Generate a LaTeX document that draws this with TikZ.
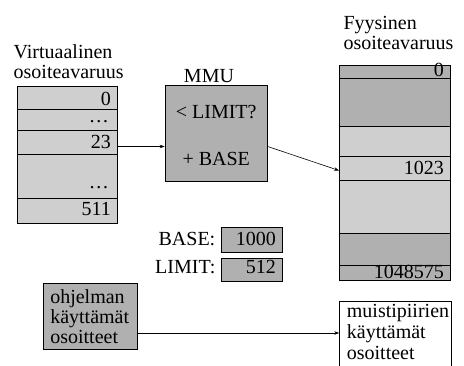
\documentclass[tikz,border=0pt]{standalone}
\usepackage{fontspec}
\setmainfont{Liberation Serif}
\usetikzlibrary{arrows.meta}

\definecolor{darkcell}{gray}{0.69}
\definecolor{lightcell}{gray}{0.81}

\tikzset{
  cell/.style={draw, line width=0.8pt},
  lbl/.style={inner sep=0pt, font=\fontsize{20}{20}\selectfont},
  link/.style={line width=0.6pt, -{Stealth[length=5pt,width=3.5pt]}}
}

\begin{document}
\begin{tikzpicture}[x=1pt,y=-1pt]

\useasboundingbox (0,0) rectangle (464,365);

% virtuaalinen osoiteavaruus
\draw [cell, fill=lightcell] (17,86.7) rectangle (117,109);
\draw [cell, fill=lightcell] (17,109) rectangle (117,130.7);
\draw [cell, fill=lightcell] (17,130.7) rectangle (117,154.3);
\draw [cell, fill=lightcell] (17,154.3) rectangle (117,198.3);
\draw [cell, fill=lightcell] (17,198.3) rectangle (117,223.3);

\node [lbl, anchor=base west] (vtitle1) at (13.5,58.3) {Virtuaalinen};
\node [lbl, anchor=base west] (vtitle2) at (13.5,78.3) {osoiteavaruus};

\node [lbl, anchor=base east] (v0) at (111,105) {0};
\node [lbl, anchor=base east] (vdotsA) at (109,122) {…};
\node [lbl, anchor=base east] (v23) at (111,148.3) {23};
\node [lbl, anchor=base east] (vdotsB) at (109,188.3) {…};
\node [lbl, anchor=base east] (v511) at (111,215) {511};

% fyysinen osoiteavaruus
\draw [cell, fill=darkcell] (339,65) rectangle (450,78.3);
\draw [cell, fill=darkcell] (339,78.3) rectangle (450,126);
\draw [cell, fill=lightcell] (339,126) rectangle (450,156.7);
\draw [cell, fill=lightcell] (339,180) rectangle (450,233.3);
\draw [cell, fill=darkcell] (339,233.3) rectangle (450,265);
\draw [cell, fill=darkcell] (339,265) rectangle (450,280);
\draw [cell, fill=lightcell] (339,156.7) rectangle (450,180);

\node [lbl, anchor=base west] (ptitle1) at (343.3,29.3) {Fyysinen};
\node [lbl, anchor=base west] (ptitle2) at (343.3,49.3) {osoiteavaruus};

\node [lbl, anchor=base east] (p0) at (444,76.7) {0};
\node [lbl, anchor=base east] (p1023) at (444,174.3) {1023};
\node [lbl, anchor=base east] (pmax) at (444,278.6) {1048575};

% MMU
\node [cell, lbl, fill=darkcell, minimum width=102.3pt, minimum height=96.7pt,
       align=center] (mmu) at (216.2,133.3)
       {\rule{0pt}{17.5pt}< LIMIT?\\[26.7pt]+ BASE};
\node [lbl, anchor=base] (mmutitle) at (209,82.7) {MMU};

\coordinate (vout) at (117,146.5);
\coordinate (pin) at (339,170.5);

\draw [link] (vout) -- (vout -| mmu.west);
\draw [link] (mmu.east |- vout) -- (pin);

% rekisterit
\draw [cell, fill=darkcell] (221.7,227.7) rectangle (282.7,252.3);
\draw [cell, fill=darkcell] (221.7,258.3) rectangle (282.7,281.7);

\node [lbl, anchor=base east] (basename) at (215.5,245) {BASE:};
\node [lbl, anchor=base east] (limitname) at (215.5,273.3) {LIMIT:};
\node [lbl, anchor=base east] (baseval) at (276,245) {1000};
\node [lbl, anchor=base east] (limitval) at (276,273.3) {512};

% selitteet
\node [cell, lbl, fill=darkcell, minimum width=94pt, minimum height=66.3pt,
       align=left, text width=80pt] (ohjelma) at (90.3,316.2)
       {ohjelman\\käyttämät\\osoitteet};

\draw [cell, fill=white] (339.3,301) rectangle (451.7,380);
\node [lbl, anchor=base west] (muisti1) at (346.7,317) {muistipiirien};
\node [lbl, anchor=base west] (muisti2) at (346.7,338) {käyttämät};
\node [lbl, anchor=base west] (muisti3) at (346.7,359) {osoitteet};

\coordinate (muistiin) at (339.3,333);

\draw [link] (ohjelma.east |- muistiin) -- (muistiin);

\end{tikzpicture}
\end{document}
